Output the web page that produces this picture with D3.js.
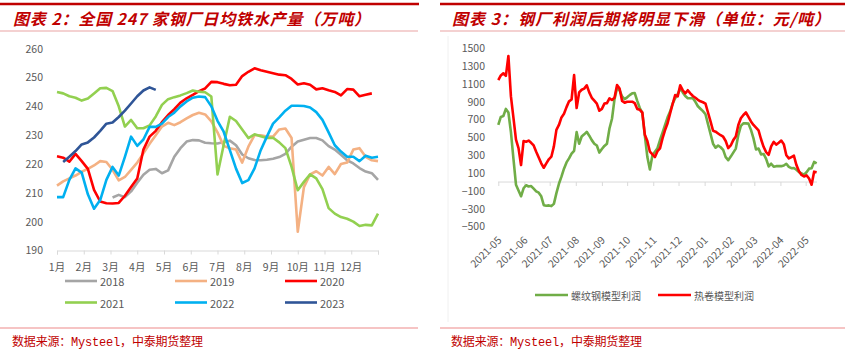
<!DOCTYPE html>
<html><head><meta charset="utf-8">
<script src="https://cdn.jsdelivr.net/npm/d3@7"></script>
<style>body{margin:0;background:#fff}svg{display:block}</style>
</head><body>
<svg id="c" width="845" height="351"></svg>
<script>
// ---------------- Left chart data (weekly, 万吨) ----------------
const monthLabels = ["1月","2月","3月","4月","5月","6月","7月","8月","9月","10月","11月","12月"];
const yearNames = ["2018","2019","2020","2021","2022","2023"];
const yearColors = ["#A5A5A5","#F4B183","#FF0000","#92D050","#00B0F0","#2F5597"];
const weekStarts = [9, 0, 0, 0, 0, 1];
const iron2018 = [208.4,209.3,208.5,210.5,213.5,216.3,218,218.3,216.8,217.8,222.5,225.5,227.8,228.3,228.2,227.4,227.2,227.1,227.6,228.1,226.5,223.3,222,221.4,221.3,221.5,221.8,222.4,223.5,226,227.8,228.4,229,229,228.2,226.2,225,223.2,221.3,220.2,218.6,217.4,216.8,214.5];
const iron2019 = [212.5,214,215,216,217.3,218.3,219.5,221,220.7,218,214.3,215.5,218,220.5,223.7,227,230,233,234.3,233.5,234.5,235.8,237,237.8,237.2,234.8,231,226.3,225.5,225,220.5,226,230,230,229.5,229.5,232,232.3,229,196.5,212,216.4,217.5,216,219,216.5,220,220.5,225,225.5,222.5,221.3,221];
const iron2020 = [222.7,222.2,220.8,223.5,221,218.3,211,207,206.4,206.3,206.5,209,212,215,225,229.5,231.5,234.5,237,239,241.3,242.8,244,245.3,246.2,248.5,248.4,247.8,247.3,247.5,250.5,252,253.2,252.5,252,251.5,251,250.8,249.5,247.6,248,247.5,245.9,246.3,245.6,245,243.8,246,245.8,243.5,244,244.5];
const iron2021 = [245,244.5,243.5,243,242,242.7,244.5,246.3,246.4,245.3,240,233,235.3,232.4,232.4,233.4,236.5,240.5,242.5,243.2,243.8,244.6,245.5,245.1,244.9,243.4,216.4,226.6,236.4,234.9,232,229,230.3,229.6,229,229.1,227.5,225.5,219,210.9,213.8,216.4,215,211.3,204.7,202.8,201.6,201,200,198.5,198.9,198.7,202.8];
const iron2022 = [208.5,208.5,214.5,218.5,217,209.5,204.5,207.5,214.5,219,216,222.5,229.5,226.3,228.5,232.9,232.9,234,236.3,237.8,240,241.7,243,243.4,243.2,240,235,231.2,224.8,218.4,213.4,214.4,218.5,224.8,229.5,234,236.2,238.5,240.2,240.2,240.1,239.6,238,235.3,231,226.5,224.3,222.5,222.5,221,222.9,222.2,222.5];
const iron2023 = [220.7,222.5,224.5,226.8,227.5,229.2,231.5,234,234.4,236.3,238.5,241,243.5,245.5,246.6,245.7];
const ironTicks = [190,200,210,220,230,240,250,260];

// ---------------- Right chart data (元/吨), sampled every 3 days from 2021-05-01 ----------------
const profitStart = "2021-05-01";
const profitStepDays = 3;
const profitNames = ["螺纹钢模型利润","热卷模型利润"];
const profitColors = ["#70AD47","#FF0000"];
const rebarProfit = [640,730,740,820,780,560,260,-30,-95,-160,
 -70,-36,-50,-45,-75,-105,-120,-160,-260,-266,
 -262,-270,-245,-125,-20,60,150,220,265,318,
 350,560,430,510,535,563,520,470,430,410,
 330,370,405,430,600,710,930,1055,1030,960,
 930,950,975,995,998,910,830,775,520,280,
 140,300,340,380,471,555,640,725,790,880,
 940,985,1050,1005,965,939,940,940,900,850,
 822,795,760,650,540,430,385,410,390,360,
 280,245,285,330,375,527,630,658,658,655,
 585,490,365,375,310,315,260,175,205,172,
 178,178,178,185,205,170,155,158,138,112,
 97,82,110,150,155,225,210];
const hrcProfit = [1144,1195,1220,1191,1414,960,720,475,380,190,
 460,452,465,440,410,340,275,210,160,209,
 255,284,400,585,640,725,765,840,905,925,
 1200,830,1005,1035,1048,1085,1005,945,912,880,
 800,820,880,885,939,920,945,1088,1050,910,
 890,901,901,901,885,820,810,780,530,460,
 340,310,280,345,378,490,583,660,770,875,
 975,960,1085,1030,995,1030,995,965,945,922,
 905,895,880,780,680,575,565,545,525,508,
 460,380,410,470,510,640,715,752,780,730,
 680,640,610,580,480,395,335,305,400,450,
 420,440,465,425,300,265,280,295,190,120,
 80,62,75,40,-30,116,110];
const profitTicks = [-500,-300,-100,100,300,500,700,900,1100,1300,1500];

// ---------------- drawing ----------------
const CJK = '"Noto Sans CJK SC","Noto Sans",sans-serif';
const svg = d3.select("#c");
const red = "#C00000";

// header / footer rules
function rule(x1,x2,y,color,w){svg.append("line").attr("x1",x1).attr("x2",x2).attr("y1",y).attr("y2",y).attr("stroke",color).attr("stroke-width",w);}
rule(0,419,4,red,2.6); rule(440,845,4,red,2.6);
rule(0,418,31,"#E9A3A3",1); rule(440,845,31,"#E9A3A3",1);
rule(0,418,328,"#EE8A8A",1.2); rule(440,845,328,"#EE8A8A",1.2);
svg.append("line").attr("x1",448).attr("x2",448).attr("y1",36).attr("y2",322).attr("stroke","#F0F0F0");

function title(x,y,txt,len){
  svg.append("text").attr("x",x).attr("y",y).text(txt)
    .attr("font-family",CJK).attr("font-size",16).attr("font-weight",700)
    .attr("font-style","italic").attr("fill",red)
    .attr("textLength",len).attr("lengthAdjust","spacing");
}
title(13,25,"图表 2：全国 247 家钢厂日均铁水产量（万吨）",357);
title(452,25,"图表 3：钢厂利润后期将明显下滑（单位：元/吨）",378);

function source(x){
  svg.append("text").attr("x",x).attr("y",345.5).text("数据来源：Mysteel，中泰期货整理")
    .attr("font-family",'"Liberation Mono","Noto Sans CJK SC",monospace').attr("font-size",12)
    .attr("fill",red).attr("textLength",191).attr("lengthAdjust","spacing");
}
source(12); source(451);

const axisColor = "#D9D9D9", labelColor = "#595959";

// ---- Left chart ----
const xL = d3.scaleLinear().domain([0,52]).range([57,378]);
const xM = d3.scaleLinear().domain([0,12]).range([57,378]);
const yL = d3.scaleLinear().domain([190,260]).range([250.5,48.7]);

const gL = svg.append("g");
gL.append("g").attr("transform","translate(46,0)")
  .call(d3.axisLeft(yL).tickValues(ironTicks).tickSize(0).tickPadding(3).tickFormat(d3.format("d")))
  .call(g=>g.select(".domain").remove())
  .call(g=>g.selectAll("text").attr("fill",labelColor).attr("font-family",CJK).attr("font-size",10.5));
gL.append("g").attr("transform",`translate(0,${yL(190)})`)
  .call(d3.axisBottom(xM).tickValues(d3.range(13)).tickSize(4).tickFormat(""))
  .call(g=>g.select(".domain").attr("stroke",axisColor))
  .call(g=>g.selectAll(".tick line").attr("stroke",axisColor));
gL.selectAll("text.mon").data(monthLabels).join("text").attr("class","mon")
  .attr("x",(d,i)=>xM(i)).attr("y",266).attr("text-anchor","middle").attr("dominant-baseline","central")
  .attr("font-family",CJK).attr("font-size",10.5).attr("fill",labelColor).text(d=>d);

const ironSeries = [iron2018,iron2019,iron2020,iron2021,iron2022,iron2023];
const lineL = d3.line().x(d=>xL(d.w)).y(d=>yL(d.v));
ironSeries.forEach((vals,i)=>{
  const pts = vals.map((v,j)=>({w:weekStarts[i]+j,v}));
  gL.append("path").datum(pts).attr("d",lineL).attr("fill","none")
    .attr("stroke",yearColors[i]).attr("stroke-width",2.6).attr("stroke-linejoin","round");
});
// left legend
yearNames.forEach((n,i)=>{
  const col=i%3,row=Math.floor(i/3);
  const lx=65+col*110, ly=281+row*21.5;
  gL.append("line").attr("x1",lx).attr("x2",lx+32).attr("y1",ly).attr("y2",ly)
    .attr("stroke",yearColors[i]).attr("stroke-width",2.6);
  gL.append("text").attr("x",lx+35).attr("y",ly).attr("dominant-baseline","central")
    .attr("font-family",CJK).attr("font-size",11).attr("fill",labelColor).text(n);
});

// ---- Right chart ----
const parse = d3.timeParse("%Y-%m-%d");
const t0 = parse(profitStart);
const profitDates = rebarProfit.map((_,i)=>d3.timeDay.offset(t0,i*profitStepDays));
const xR = d3.scaleTime().domain([parse("2021-05-01"),parse("2022-05-01")]).range([498.3,805.7]);
const yR = d3.scaleLinear().domain([-500,1500]).range([226.6,48.3]);
const gR = svg.append("g");
gR.append("g").attr("transform","translate(489,0)")
  .call(d3.axisLeft(yR).tickValues(profitTicks).tickSize(0).tickPadding(4).tickFormat(d3.format("d")))
  .call(g=>g.select(".domain").remove())
  .call(g=>g.selectAll("text").attr("fill",labelColor).attr("font-family",CJK).attr("font-size",10.5));
const monthTicks = d3.timeMonth.range(parse("2021-05-01"),parse("2022-05-02"));
gR.append("line").attr("x1",498).attr("x2",817).attr("y1",yR(0)).attr("y2",yR(0)).attr("stroke",axisColor);
gR.append("g").attr("transform",`translate(0,${yR(0)})`)
  .call(d3.axisBottom(xR).tickValues(monthTicks).tickSize(4).tickFormat(""))
  .call(g=>g.select(".domain").remove())
  .call(g=>g.selectAll(".tick line").attr("stroke",axisColor));
const fmt = d3.timeFormat("%Y-%m");
gR.selectAll("text.xl").data(monthTicks).join("text").attr("class","xl")
  .attr("transform",d=>`translate(${xR(d)+4},241) rotate(-45)`).attr("text-anchor","end")
  .attr("font-family",CJK).attr("font-size",10.5).attr("fill",labelColor).text(d=>fmt(d));

const lineR = d3.line().x(d=>xR(d.t)).y(d=>yR(d.v));
[rebarProfit,hrcProfit].forEach((vals,i)=>{
  const pts = vals.map((v,j)=>({t:profitDates[j],v}));
  gR.append("path").datum(pts).attr("d",lineR).attr("fill","none")
    .attr("stroke",profitColors[i]).attr("stroke-width",2.6).attr("stroke-linejoin","round");
});
profitNames.forEach((n,i)=>{
  const lx = 535 + i*123, ly = 295;
  gR.append("line").attr("x1",lx).attr("x2",lx+33).attr("y1",ly).attr("y2",ly)
    .attr("stroke",profitColors[i]).attr("stroke-width",2.6);
  gR.append("text").attr("x",lx+36).attr("y",ly).attr("dominant-baseline","central")
    .attr("font-family",CJK).attr("font-size",10).attr("fill",labelColor).text(n);
});
</script>
</body></html>
